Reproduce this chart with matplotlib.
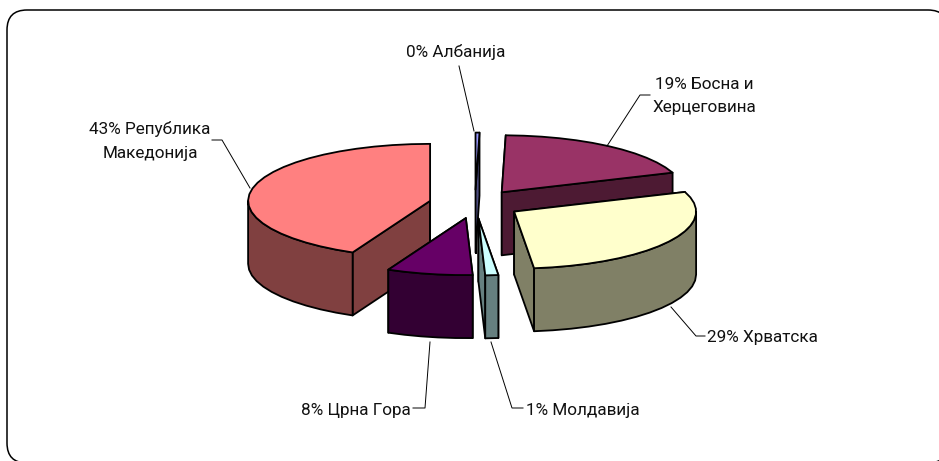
"""Exploded 3D pie chart, drawn by projecting the slices onto an ellipse."""

import numpy as np
import matplotlib.pyplot as plt
from matplotlib.patches import FancyBboxPatch, Polygon

plt.rcParams["font.family"] = ["Roboto", "Liberation Sans", "DejaVu Sans"]

shares = [0.35, 19.05, 28.85, 1.15, 7.6, 43.0]
top_colors = ["#9999FF", "#993366", "#FFFFCC", "#CCFFFF", "#660066", "#FF8080"]
side_colors = ["#4D4D80", "#4D1A33", "#808066", "#668080", "#330033", "#804040"]
labels = ["0% Албанија", "19% Босна и\nХерцеговина", "29% Хрватска", "1% Молдавија", "8% Црна Гора", "43% Република\nМакедонија"]

CX, CY = 475, 204
RX, RY = 182, 57
DEPTH = 63
EXPLODE = 46
EDGE = 1.3


def ellipse_xy(cx, cy, deg):
    a = np.radians(deg)
    return cx + RX * np.sin(a), cy - RY * np.cos(a)


def arc_points(cx, cy, a0, a1):
    n = max(2, int((a1 - a0) / 6) + 2)
    xs, ys = ellipse_xy(cx, cy, np.linspace(a0, a1, n))
    return np.column_stack([xs, ys])


def draw_slice(ax, a0, a1, top, side, z):
    mid = np.radians((a0 + a1) / 2)
    cx = CX + EXPLODE * np.sin(mid)
    cy = CY - EXPLODE * np.cos(mid) * RY / RX
    down = np.array([0, DEPTH])
    apex = np.array([cx, cy])
    style = dict(edgecolor="black", linewidth=EDGE, joinstyle="round", zorder=z)

    # cut faces first, the top face hides whatever sits behind it
    for deg in (a0, a1):
        rim = np.array(ellipse_xy(cx, cy, deg))
        ax.add_patch(Polygon([apex, rim, rim + down, apex + down], facecolor=side, **style))

    # outer wall, only the part turned towards the viewer
    v0, v1 = max(a0, 90), min(a1, 270)
    if v1 > v0:
        rim = arc_points(cx, cy, v0, v1)
        ax.add_patch(Polygon(np.vstack([rim, rim[::-1] + down]), facecolor=side, **style))

    arc = arc_points(cx, cy, a0, a1)
    ax.add_patch(Polygon(np.vstack([apex, arc]), facecolor=top, **style))


fig = plt.figure(figsize=(9.39, 4.61), dpi=100)
ax = fig.add_axes([0, 0, 1, 1])
ax.set_xlim(0, 939)
ax.set_ylim(461, 0)
ax.axis("off")

# chart frame runs off the right and bottom of the image
ax.add_patch(FancyBboxPatch((27, 30), 901, 413, boxstyle="round,pad=20,rounding_size=20",
                            facecolor="white", edgecolor="black", linewidth=1.1, zorder=0))

edges = np.cumsum([0] + shares) * 3.6
for i in range(len(shares)):
    order_z = [1, 2, 4, 6, 5, 3][i]
    draw_slice(ax, edges[i], edges[i + 1], top_colors[i], side_colors[i], 2 + order_z)

# leader lines and label anchors
leaders = [
    [(459, 66), (474, 131)],
    [(607, 146), (640, 95), (650, 95)],
    [(671, 307), (696, 336), (705, 336)],
    [(491, 342), (512, 408), (523, 408)],
    [(430, 342), (425, 408), (413, 408)],
    [(250, 188), (222, 140), (212, 140)],
]
anchors = [(456, 52), (704, 96), (762.5, 337), (583, 410), (356, 410), (150, 141)]
for line, xy, text in zip(leaders, anchors, labels):
    xs, ys = zip(*line)
    ax.plot(xs, ys, color="black", linewidth=0.7, zorder=20)
    ax.text(xy[0], xy[1], text, ha="center", va="center", fontsize=12.3,
            linespacing=1.68, color="#111111", zorder=21)

fig.savefig("out.png", dpi=100)
